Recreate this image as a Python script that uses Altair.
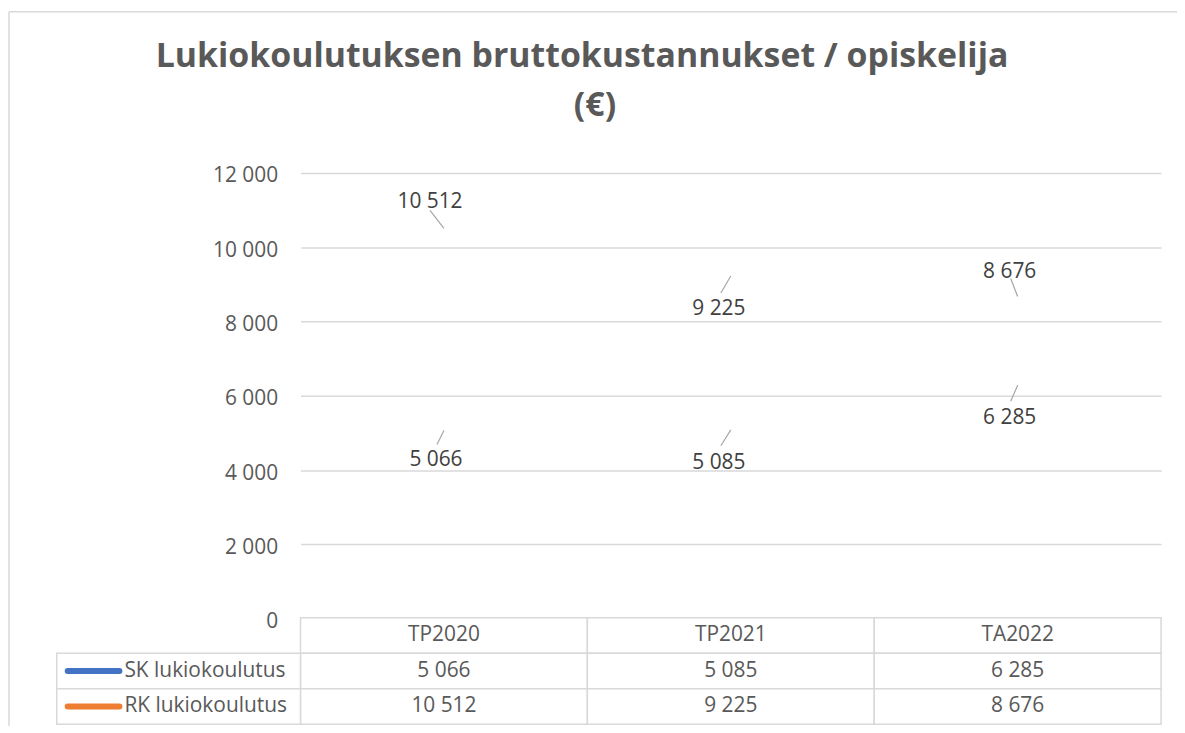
import altair as alt
import pandas as pd

# ---------------- data ----------------
categories = ["TP2020", "TP2021", "TA2022"]
series_keys = ["SK", "RK"]
series_names = ["SK lukiokoulutus", "RK lukiokoulutus"]
sk_values = [5066, 5085, 6285]
rk_values = [10512, 9225, 8676]
series_colors = ["#4472C4", "#ED7D31"]
y_ticks = [0, 2000, 4000, 6000, 8000, 10000, 12000]
title_line1 = "Lukiokoulutuksen bruttokustannukset / opiskelija"
title_line2 = "(€)"

# label placement (pixel offsets: leader-end dx, dy; label dx, dy)
label_offsets = {
    ("SK", "TP2020"): (-7, 14, -8, 30),
    ("SK", "TP2021"): (-10, 16, -12, 33),
    ("SK", "TA2022"): (-7, 16, -8, 33),
    ("RK", "TP2020"): (-14, -18, -14, -26),
    ("RK", "TP2021"): (-10, 17, -12, 33),
    ("RK", "TA2022"): (-7, -18, -8, -25),
}


def fmt(v):
    return f"{v:,}".replace(",", " ")


values_by_key = {"SK": sk_values, "RK": rk_values}
rows = []
for key, name in zip(series_keys, series_names):
    for cat, v in zip(categories, values_by_key[key]):
        rows.append({"cat": cat, "key": key, "name": name, "value": v, "label": fmt(v)})
pts = pd.DataFrame(rows)

table_rows = [{"cat": c, "row": "hdr", "text": c} for c in categories]
for key in series_keys:
    for cat, v in zip(categories, values_by_key[key]):
        table_rows.append({"cat": cat, "row": key, "text": fmt(v)})
table = pd.DataFrame(table_rows)

legend_df = pd.DataFrame({"row": series_keys, "name": series_names})

FONT = "Open Sans"
FS = 21
TXT = "#595959"
GRID = "#D9D9D9"
W, H = 865, 448

# ---------------- plot area ----------------
x_enc = alt.X("cat:N", scale=alt.Scale(type="point", domain=categories, padding=0.5), axis=None)
y_enc = alt.Y(
    "value:Q",
    scale=alt.Scale(domain=[0, 12000]),
    axis=alt.Axis(
        values=y_ticks,
        grid=True,
        gridColor=GRID,
        gridWidth=1.5,
        domain=False,
        ticks=False,
        labelPadding=23,
        labelOffset=3,
        labelFont=FONT,
        labelFontSize=FS,
        labelColor=TXT,
        labelBaseline="middle",
        labelExpr="replace(format(datum.value, ','), ',', ' ')",
        title=None,
    ),
)

base_pts = alt.Chart(pts)
plot_layers = [base_pts.mark_point(opacity=0).encode(x=x_enc, y=y_enc)]
for (key, cat), (ldx, ldy, tdx, tdy) in label_offsets.items():
    sel = base_pts.transform_filter(f"datum.key == '{key}' && datum.cat == '{cat}'")
    plot_layers.append(
        sel.mark_rule(color="#A6A6A6", strokeWidth=1.2, x2Offset=ldx, y2Offset=ldy).encode(
            x=x_enc, y=y_enc, x2="cat:N", y2="value:Q"
        )
    )
    plot_layers.append(
        sel.mark_text(dx=tdx, dy=tdy, font=FONT, fontSize=FS, color="#404040",
                      align="center", baseline="middle").encode(
            x=x_enc, y=y_enc, text="label:N"
        )
    )
plot = alt.layer(*plot_layers)

# ---------------- data table ----------------
row_scale = alt.Scale(type="band", domain=["hdr"] + series_keys, range=[H - 1, H + 106],
                      paddingInner=0, paddingOuter=0)
xt = alt.X("cat:N", scale=alt.Scale(type="band", domain=categories, paddingInner=0, paddingOuter=0), axis=None)
yt = alt.Y("row:N", scale=row_scale, axis=None)

tbase = alt.Chart(table)
cells = tbase.mark_rect(fill="white", stroke=GRID, strokeWidth=1.5).encode(x=xt, y=yt)
cell_text = tbase.mark_text(font=FONT, fontSize=FS, color=TXT, baseline="middle").encode(
    x=xt, y=yt, text="text:N")

lbase = alt.Chart(legend_df)
leg_cells = lbase.mark_rect(fill="white", stroke=GRID, strokeWidth=1.5).encode(
    x=alt.value(-245), x2=alt.value(0), y=yt)
leg_keys = lbase.mark_rule(strokeWidth=6, strokeCap="round").encode(
    x=alt.value(-234), x2=alt.value(-182),
    y=alt.Y("row:N", scale=row_scale, axis=None, bandPosition=0.5),
    color=alt.Color("name:N", scale=alt.Scale(domain=series_names, range=series_colors), legend=None),
)
leg_text = lbase.mark_text(font=FONT, fontSize=FS, color=TXT, align="left", baseline="middle").encode(
    x=alt.value(-177), y=alt.Y("row:N", scale=row_scale, axis=None, bandPosition=0.5), text="name:N")

table_layer = alt.layer(cells, cell_text, leg_cells, leg_keys, leg_text)

# ---------------- decorations: outer border & title ----------------
one = pd.DataFrame({"a": [0]})
border_left = alt.Chart(one).mark_rule(color=GRID, strokeWidth=1.5).encode(
    x=alt.value(-293), y=alt.value(-162), y2=alt.value(700))
border_top = alt.Chart(one).mark_rule(color=GRID, strokeWidth=1.5).encode(
    x=alt.value(-293), x2=alt.value(1000), y=alt.value(-162))
title_style = dict(font=FONT, fontSize=34, fontWeight="bold", color=TXT,
                   align="center", baseline="alphabetic")
title1 = alt.Chart(one).mark_text(text=title_line1, **title_style).encode(
    x=alt.value(283), y=alt.value(-107))
title2 = alt.Chart(one).mark_text(text=title_line2, **title_style).encode(
    x=alt.value(296), y=alt.value(-57))

deco = alt.layer(border_left, border_top, title1, title2)

chart = (
    alt.layer(plot, table_layer, deco)
    .resolve_scale(x="independent", y="independent", color="independent")
    .properties(
        width=W,
        height=H,
        padding={"left": 294, "top": 164, "right": 16, "bottom": 106},
        autosize=alt.AutoSizeParams(type="none"),
        background="white",
    )
    .configure_view(stroke=None)
)

chart.save("out.html", embed_options={"renderer": "svg", "actions": False})
